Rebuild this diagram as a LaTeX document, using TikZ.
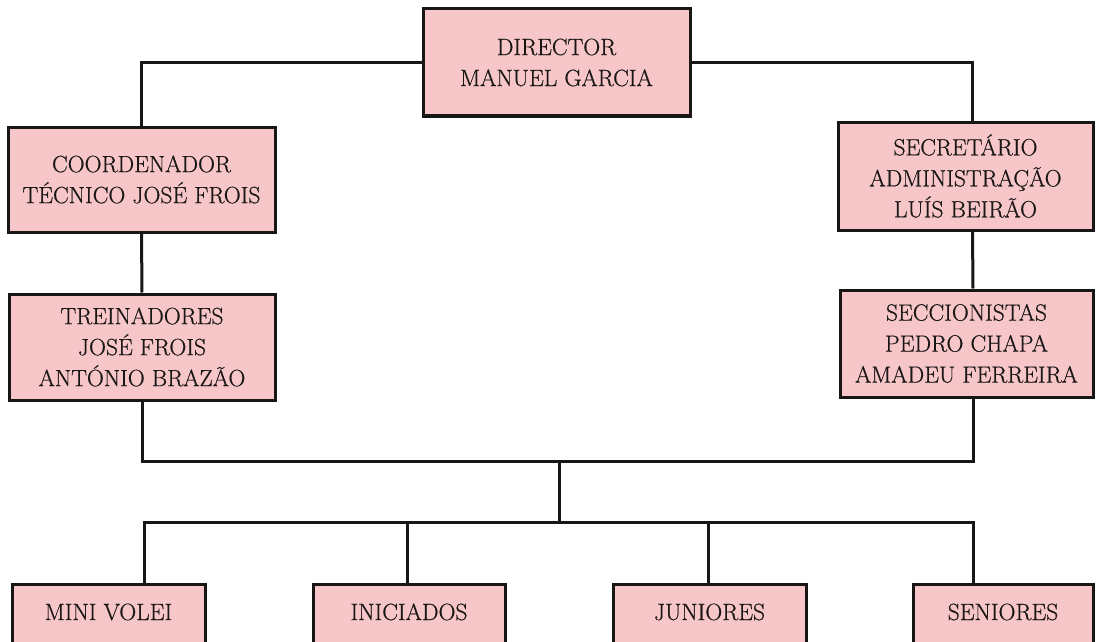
\documentclass[tikz,border=0pt]{standalone}
\usepackage{fontspec}
\setmainfont{Latin Modern Roman}[FakeBold=0.6]
\definecolor{boxpink}{RGB}{247,198,201}
\definecolor{ink}{RGB}{25,22,22}
\begin{document}
\begin{tikzpicture}[x=1pt,y=-1pt,
  box/.style={draw=ink, fill=boxpink, line width=3pt, align=center, inner sep=0pt,
    font=\fontsize{23.5}{31}\selectfont, text=ink},
  team/.style={box, text height=36pt, text depth=80pt, anchor=base},
  link/.style={draw=ink, line width=3pt}]
\useasboundingbox (0,0) rectangle (1096,642);
\clip (0,0) rectangle (1096,642);
\fill[white] (0,0) rectangle (1096,642);
% boxes
\node[box, minimum width=267pt, minimum height=107pt] (dir) at (556.5,62.5) {DIRECTOR\\MANUEL GARCIA};
\node[box, minimum width=267pt, minimum height=105pt] (coord) at (141.5,179.5) {COORDENADOR\\TÉCNICO JOSÉ FROIS};
\node[box, minimum width=255pt, minimum height=108pt] (sec) at (965.5,176) {SECRETÁRIO\\ADMINISTRAÇÃO\\LUÍS BEIRÃO};
\node[box, minimum width=266pt, minimum height=106pt] (trein) at (142,347) {TREINADORES\\JOSÉ FROIS\\ANTÓNIO BRAZÃO};
\node[box, minimum width=253pt, minimum height=107pt] (secc) at (966.5,343.5) {SECCIONISTAS\\PEDRO CHAPA\\AMADEU FERREIRA};
\node[team, minimum width=193pt] (mini) at (108.5,620) {MINI VOLEI};
\node[team, minimum width=192pt] (inic) at (409,620) {INICIADOS};
\node[team, minimum width=193pt] (jun) at (709.5,620) {JUNIORES};
\node[team, minimum width=180pt] (sen) at (1003,620) {SENIORES};
% junction points
\coordinate (j1) at (559,461);
\coordinate (j2) at (559,522);
% connectors
\draw[link] (dir.west) -| (coord.north);
\draw[link] (dir.east) -| ([xshift=7pt]sec.north);
\draw[link] (coord.south) -- (trein.north);
\draw[link] ([xshift=7pt]sec.south) -- ([xshift=6.5pt]secc.north);
\draw[link] (trein.south) |- (j1) -| ([xshift=6.5pt]secc.south);
\draw[link] (j1) -- (j2);
\draw[link] ([xshift=35.5pt]mini.north) |- (j2) -| ([xshift=-30pt]sen.north);
\draw[link] ([xshift=-2pt]inic.north) -- ([xshift=-2pt]inic.north |- j2);
\draw[link] ([xshift=-1.5pt]jun.north) -- ([xshift=-1.5pt]jun.north |- j2);
\end{tikzpicture}
\end{document}
